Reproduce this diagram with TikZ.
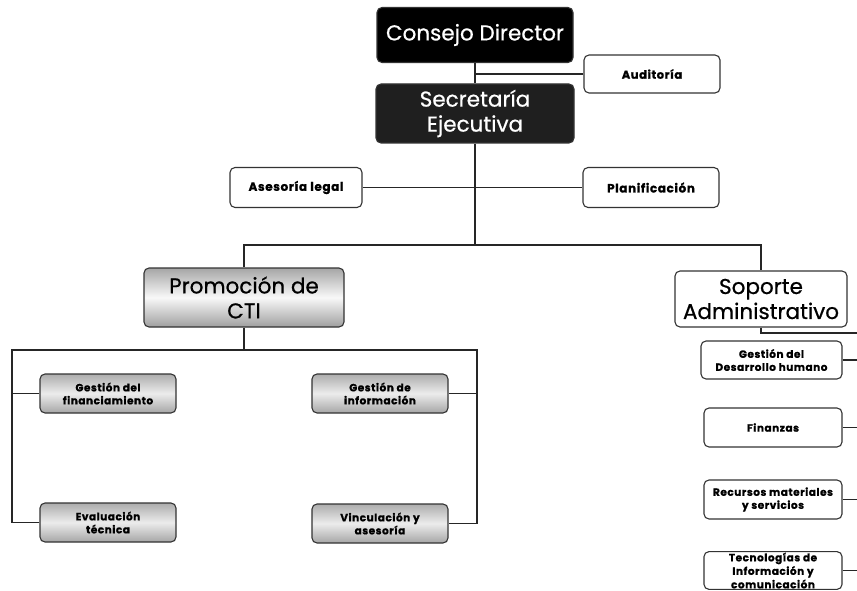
\documentclass[tikz,border=0pt]{standalone}
\usepackage{fontspec}
\setmainfont{Poppins}
\newfontfamily\headf{Poppins}[FakeBold=0.7]
\newfontfamily\smallf{Poppins}[LetterSpace=5, BoldFeatures={FakeBold=1.0}]
\begin{document}
\begin{tikzpicture}[x=1pt,y=-1pt,
  base/.style={rounded corners=5pt, align=center, inner sep=1pt, line width=1.1pt, draw=black!80},
  bigfont/.style={font=\headf\fontsize{21.5}{25}\selectfont},
  darkbox/.style={base, bigfont, fill=black, text=white},
  bigwhite/.style={base, bigfont, fill=white, text=black},
  graybig/.style={base, bigfont, top color=gray!70, bottom color=gray!75, middle color=gray!5},
  smallwhite/.style={base, fill=white, font=\smallf\bfseries\fontsize{11.5}{13}\selectfont},
  smallgray/.style={base, top color=gray!65, bottom color=gray!70, middle color=gray!15, font=\smallf\bfseries\fontsize{10.5}{13}\selectfont},
  rightfont/.style={font=\smallf\bfseries\fontsize{10.5}{13}\selectfont},
  conn/.style={line width=1.1pt, draw=black!85}
]
\useasboundingbox (0,0) rectangle (857,591);
\fill[white] (0,0) rectangle (857,591);

\node[darkbox, minimum width=196pt, minimum height=55pt] (cd) at (475,35) {Consejo Director};
\node[smallwhite, minimum width=136pt, minimum height=38pt] (aud) at (652,74) {Auditoría};
\node[darkbox, fill=black!88, minimum width=198pt, minimum height=59pt] (se) at (475,113.5) {Secretaría\\Ejecutiva};
\node[smallwhite, font=\smallf\bfseries\fontsize{12}{13}\selectfont, minimum width=132pt, minimum height=40pt] (ase) at (296,187.5) {Asesoría legal};
\node[smallwhite, font=\smallf\bfseries\fontsize{12}{13}\selectfont, minimum width=136pt, minimum height=40pt] (pla) at (651,187.5) {Planificación};
\node[graybig, minimum width=200pt, minimum height=59pt] (pro) at (244,297.5) {Promoción de\\CTI};
\node[bigwhite, minimum width=172pt, minimum height=56pt] (sop) at (761,299) {Soporte\\Administrativo};

\node[smallgray, minimum width=136pt, minimum height=39pt] (gf) at (108,393.5) {Gestión del\\financiamiento};
\node[smallgray, minimum width=136pt, minimum height=39pt] (gi) at (380,393.5) {Gestión de\\información};
\node[smallgray, minimum width=136pt, minimum height=39pt] (ev) at (108,522.5) {Evaluación\\técnica};
\node[smallgray, minimum width=136pt, minimum height=39pt] (vi) at (380,523.5) {Vinculación y\\asesoría};

\node[smallwhite, rightfont, minimum width=141pt, minimum height=38pt] (gd) at (771.5,360) {Gestión del\\Desarrollo humano};
\node[smallwhite, rightfont, minimum width=138pt, minimum height=39pt] (fi) at (773,427.5) {Finanzas};
\node[smallwhite, rightfont, minimum width=138pt, minimum height=39pt] (re) at (773,499.5) {Recursos materiales\\y servicios};
\node[smallwhite, font=\smallf\bfseries\fontsize{10.5}{13.5}\selectfont, minimum width=138pt, minimum height=37pt] (te) at (773,570.5) {Tecnologías de\\Información y\\comunicación};

\coordinate (j1) at (475,245);
\coordinate (lb) at (12,350);
\coordinate (rb) at (477,350);
\coordinate (sr) at (857,333);

\draw[conn] (cd.south) -- (se.north);
\draw[conn] (aud.west) -- (aud.west -| cd.south);
\draw[conn] (se.south) -- (j1);
\draw[conn] (ase.east) -- (pla.west);
\draw[conn] (pro.north) |- (j1) -| (sop.north);
\draw[conn] (pro.south) -- (pro.south |- lb);
\draw[conn] (ev.west) -| (lb) -- (rb) |- (vi.east);
\draw[conn] (gf.west) -- (gf.west -| lb);
\draw[conn] (gi.east) -- (gi.east -| rb);
\draw[conn] (sop.south) |- (sr);
\draw[conn] (gd.east) -- (gd.east -| sr);
\draw[conn] (fi.east) -- (fi.east -| sr);
\draw[conn] (re.east) -- (re.east -| sr);
\draw[conn] (te.east) -- (te.east -| sr);
\end{tikzpicture}
\end{document}
